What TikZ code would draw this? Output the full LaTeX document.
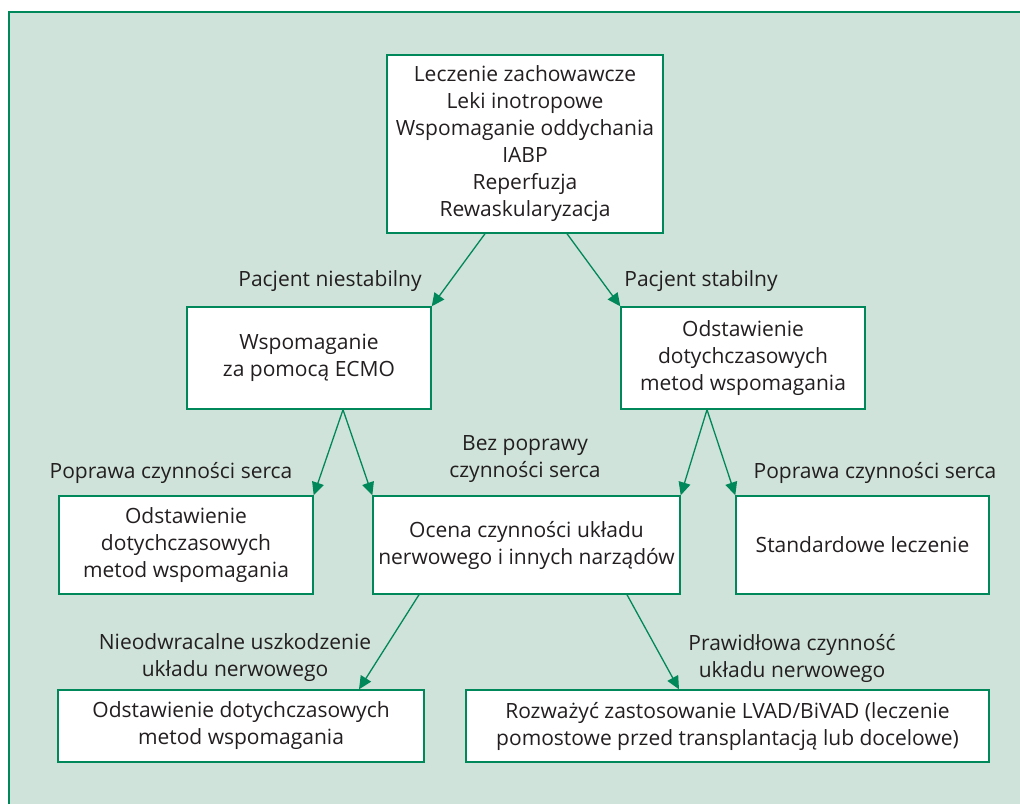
\documentclass[tikz,border=0pt]{standalone}
\usepackage{fontspec}
\setmainfont{Open Sans}
\usepackage{tikz}
\usepackage{xcolor}
\usetikzlibrary{arrows.meta}

\definecolor{ziel}{HTML}{00875A}
\definecolor{tlo}{HTML}{CFE3DA}
\definecolor{tekst}{HTML}{231F20}

\tikzset{
  pole/.style={draw=ziel, line width=0.7pt, fill=white, align=center, inner sep=0pt},
  opis/.style={align=center},
  strz/.style={->, ziel, line width=0.65pt}
}

\begin{document}
\begin{tikzpicture}[x=0.5pt, y=-0.5pt, >={Triangle[length=6.5pt,width=6pt]},
    font=\fontsize{10.5}{13.5}\selectfont, text=tekst]
          \useasboundingbox (0,0) rectangle (1020,804);
          \fill[tlo] (9,12) rectangle (1020,804);
          \draw[ziel, line width=0.8pt] (9,804) -- (9,12) -- (1020,12);
          % Poziom 1
          \node[pole, minimum width=138pt, minimum height=89pt] (start) at (525,144)
            {Leczenie zachowawcze\\Leki inotropowe\\Wspomaganie oddychania\\IABP\\Reperfuzja\\Rewaskularyzacja};
          % Poziom 2
          \node[pole, minimum width=122pt, minimum height=51pt] (ecmo) at (309,358)
            {Wspomaganie\\za pomocą ECMO};
          \node[pole, minimum width=122pt, minimum height=51pt] (odst) at (743,358)
            {Odstawienie\\dotychczasowych\\metod wspomagania};
          \draw[strz] ([xshift=-20pt]start.south) -- (ecmo.north east);
          \draw[strz] ([xshift=21pt]start.south) -- (odst.north west);
          \node[opis] (niest) at (330,281) {Pacjent niestabilny};
          \node[opis] (stab) at (701,281) {Pacjent stabilny};
          % Poziom 3
          \node[pole, minimum width=127pt, minimum height=49pt] (odstL) at (186,545)
            {Odstawienie\\dotychczasowych\\metod wspomagania};
          \node[pole, minimum width=153.5pt, minimum height=49pt] (ocena) at (526.5,545)
            {Ocena czynności układu\\nerwowego i innych narządów};
          \node[pole, minimum width=126.5pt, minimum height=49pt] (stand) at (862.5,545)
            {Standardowe leczenie};
          \draw[strz] ([xshift=17pt]ecmo.south) -- (odstL.north east);
          \draw[strz] ([xshift=17pt]ecmo.south) -- (ocena.north west);
          \draw[strz] ([xshift=-18pt]odst.south) -- (ocena.north east);
          \draw[strz] ([xshift=-18pt]odst.south) -- (stand.north west);
          \node[opis] (popL) at (171,473) {Poprawa czynności serca};
          \node[opis] (bez) at (525,459) {Bez poprawy\\czynności serca};
          \node[opis] (popP) at (875,473) {Poprawa czynności serca};
          % Poziom 4
          \node[pole, minimum width=183pt, minimum height=36pt] (koniec) at (241,726)
            {Odstawienie dotychczasowych\\metod wspomagania};
          \node[pole, minimum width=261.5pt, minimum height=36pt] (vad) at (727.5,726)
            {Rozważyć zastosowanie LVAD/BiVAD (leczenie\\pomostowe przed transplantacją lub docelowe)};
          \draw[strz] ([xshift=-53.75pt]ocena.south) -- ([xshift=59pt]koniec.north);
          \draw[strz] ([xshift=50.25pt]ocena.south) -- ([xshift=-24.25pt]vad.north);
          \node[opis] (nieodw) at (235,658) {Nieodwracalne uszkodzenie\\układu nerwowego};
          \node[opis] (prawid) at (792,658) {Prawidłowa czynność\\układu nerwowego};
        \end{tikzpicture}
\end{document}
